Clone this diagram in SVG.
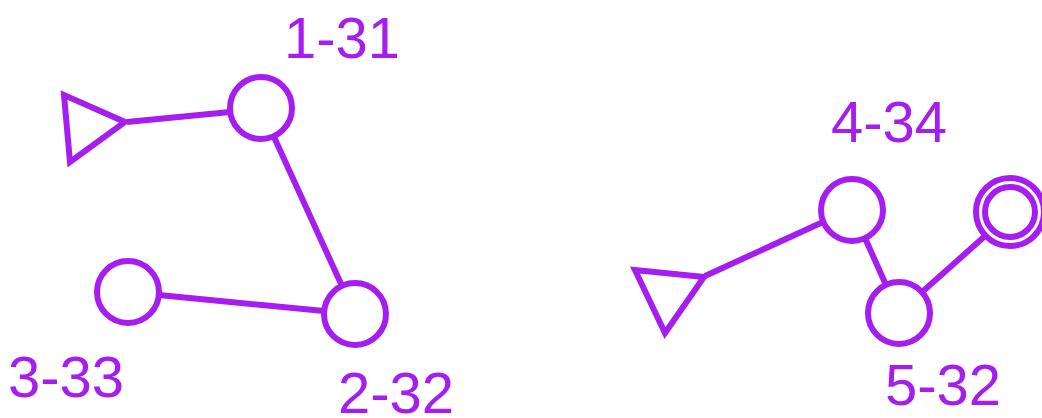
<svg xmlns="http://www.w3.org/2000/svg" width="1042" height="418" viewBox="0 0 1042 418">
<style>
.s{fill:#fff;stroke:#A61DF0;stroke-width:6;stroke-linejoin:miter}
.e{stroke:#A61DF0;stroke-width:6;fill:none}
.t{font-family:"Liberation Sans",Arial,sans-serif;font-size:58px;fill:#A61DF0}
</style>
<rect width="1042" height="418" fill="#fff"/>
<g id="edges">
<line class="e" x1="127" y1="122" x2="230" y2="112"/>
<line class="e" x1="274" y1="137" x2="342" y2="286"/>
<line class="e" x1="159" y1="295" x2="324" y2="311"/>
<line class="e" x1="705" y1="276" x2="823" y2="222"/>
<line class="e" x1="865" y1="238" x2="886" y2="285"/>
<line class="e" x1="921" y1="293" x2="985" y2="236"/>
</g>
<g id="n-tri1"><polygon class="s" points="64,95 70,162 125,122"/></g>
<g id="n-1-31"><circle class="s" cx="261" cy="108" r="31"/><text class="t" x="284" y="58">1-31</text></g>
<g id="n-2-32"><circle class="s" cx="355" cy="314" r="31"/><text class="t" x="338" y="413">2-32</text></g>
<g id="n-3-33"><circle class="s" cx="128" cy="292" r="31"/><text class="t" x="8" y="397">3-33</text></g>
<g id="n-tri2"><polygon class="s" points="635,270 665,333 704,277"/></g>
<g id="n-4-34"><circle class="s" cx="852" cy="210" r="31"/><text class="t" x="831" y="142">4-34</text></g>
<g id="n-5-32"><circle class="s" cx="899" cy="313" r="31"/><text class="t" x="885" y="405">5-32</text></g>
<g id="n-final"><circle class="s" cx="1010" cy="212" r="34"/><circle class="s" cx="1010" cy="212" r="25"/></g>
</svg>
